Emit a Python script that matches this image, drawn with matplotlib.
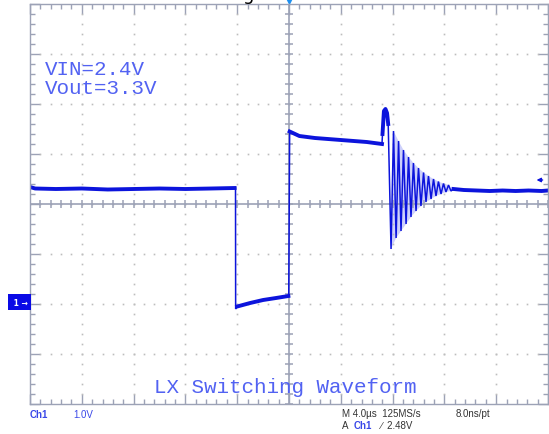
import numpy as np
import matplotlib.pyplot as plt
from matplotlib.ticker import MultipleLocator
from matplotlib.transforms import blended_transform_factory

# scope settings: 4 us/div, 1 V/div, ch1 ground at 0 V
time_per_div = 4.0
volt_per_div = 1.0
trigger_level = 2.48

# LX node, sampled off the screen (time in us, volts)
pre_t = [-20.0, -19.6, -18.0, -16.0, -14.0, -12.0, -10.0, -8.0, -6.0, -4.2]
pre_v = [2.34, 2.31, 2.30, 2.31, 2.29, 2.30, 2.31, 2.30, 2.31, 2.32]

low_t = [-4.13, -4.12, -4.0, -3.0, -2.0, -1.0, -0.05]
low_v = [2.32, -0.10, -0.05, 0.02, 0.08, 0.12, 0.16]

high_t = [-0.02, 0.05, 0.8, 2.0, 4.0, 6.0, 7.18]
high_v = [0.16, 3.45, 3.36, 3.32, 3.28, 3.24, 3.20]

spike_t = [7.22, 7.33, 7.45, 7.57, 7.66]
spike_v = [3.40, 3.86, 3.90, 3.82, 3.60]

ring_t = [7.88, 8.07, 8.27, 8.46, 8.65, 8.84, 9.04, 9.23, 9.42, 9.61,
          9.81, 10.00, 10.19, 10.39, 10.58, 10.77, 10.97, 11.16, 11.35,
          11.54, 11.74, 11.93, 12.12, 12.32, 12.51]
ring_v = [1.10, 3.46, 1.32, 3.26, 1.46, 3.08, 1.60, 2.94, 1.74, 2.82,
          1.86, 2.72, 1.96, 2.63, 2.04, 2.56, 2.10, 2.50, 2.16, 2.45,
          2.20, 2.41, 2.24, 2.38, 2.26]

post_t = [12.7, 13.5, 14.5, 15.5, 16.5, 17.5, 18.5, 19.5, 20.0]
post_v = [2.30, 2.28, 2.27, 2.26, 2.27, 2.26, 2.27, 2.26, 2.27]

trace_col = '#0c14dc'
text_col = '#5262f2'
frame_col = '#9ca2b6'
dot_col = '#bdbdbd'


def drawScreen(ax):
    """Graticule: dotted grid, center rulers and edge ticks"""
    ax.set_xlim(-5 * time_per_div, 5 * time_per_div)
    ax.set_ylim(-2 * volt_per_div, 6 * volt_per_div)

    ax.xaxis.set_major_locator(MultipleLocator(time_per_div))
    ax.xaxis.set_minor_locator(MultipleLocator(time_per_div / 5))
    ax.yaxis.set_major_locator(MultipleLocator(volt_per_div))
    ax.yaxis.set_minor_locator(MultipleLocator(volt_per_div / 5))
    ax.tick_params(which='both', direction='in', top=True, right=True,
                   labelbottom=False, labelleft=False, color=frame_col, width=1)
    ax.tick_params(which='major', length=7)
    ax.tick_params(which='minor', length=3.6)
    for s in ax.spines.values():
        s.set_color(frame_col)
        s.set_linewidth(1.0)

    xmaj = np.arange(-20, 20.1, time_per_div)
    xmin = np.arange(-20, 20.1, time_per_div / 5)
    ymaj = np.arange(-2, 6.01, volt_per_div)
    ymin = np.arange(-2, 6.01, volt_per_div / 5)

    # dotted grid
    for x in xmaj[1:-1]:
        ax.plot(np.full(len(ymin), x), ymin, ls='none', marker='s', ms=1.2,
                color=dot_col, mec='none')
    for y in ymaj[1:-1]:
        ax.plot(xmin, np.full(len(xmin), y), ls='none', marker='s', ms=1.2,
                color=dot_col, mec='none')

    # center rulers
    ax.axhline(2, color=frame_col, lw=1.2)
    ax.axvline(0, color=frame_col, lw=1.2)
    ax.vlines(xmin, 2 - 0.08, 2 + 0.08, color=frame_col, lw=1.1)
    ax.hlines(ymin, -0.3, 0.3, color=frame_col, lw=1.1)


def drawTrace(ax):
    """Switch node waveform"""
    t = pre_t + low_t + high_t + spike_t + ring_t + post_t
    v = pre_v + low_v + high_v + spike_v + ring_v + post_v

    # faint persistence between the ringing swings: peaks out, troughs back
    band_t = ring_t[1::2] + ring_t[0::2][::-1]
    band_v = ring_v[1::2] + ring_v[0::2][::-1]
    ax.fill(band_t, band_v, color='#cdd0fb', lw=0)
    ax.plot(t, v, color=trace_col, lw=1.1, solid_joinstyle='miter')

    # flat parts carry a band of noise
    for seg_t, seg_v in [(pre_t, pre_v), (low_t[2:], low_v[2:]),
                         (high_t[1:], high_v[1:]), (spike_t, spike_v),
                         (post_t, post_v)]:
        ax.plot(seg_t, seg_v, color=trace_col, lw=2.8)


fig = plt.figure(figsize=(5.49, 4.35), dpi=100)
fig.patch.set_facecolor('white')
ax = fig.add_axes([30 / 549, 30 / 435, 518 / 549, 400 / 435])

drawScreen(ax)
drawTrace(ax)

# channel ground marker
blend = blended_transform_factory(ax.transAxes, ax.transData)
ax.text(-0.004, 0.04, ' 1 \u2192', transform=blend, ha='right', va='center',
        fontsize=5.5, color='white', fontweight='bold',
        bbox=dict(boxstyle='square,pad=0.45', fc='#0a0ae6', ec='none'),
        clip_on=False)

# trigger position and level markers
ax.plot([0], [6.06], marker='v', ms=6, color='#1e90f0', mec='none', clip_on=False)
ax.annotate('', xy=(18.9, trigger_level), xytext=(19.8, trigger_level),
            arrowprops=dict(arrowstyle='-|>', color=trace_col, lw=1,
                            mutation_scale=6), annotation_clip=False)

# labels on screen
mono = 'Liberation Mono'
fig.text(45 / 549, 1 - 75 / 435, 'VIN=2.4V', family=mono, fontsize=15,
         color=text_col, va='baseline')
fig.text(45 / 549, 1 - 94 / 435, 'Vout=3.3V', family=mono, fontsize=15,
         color=text_col, va='baseline')
fig.text(154 / 549, 1 - 393 / 435, 'LX Switching Waveform', family=mono,
         fontsize=15, color=text_col, va='baseline')

# caption cut off above the screen
fig.text(243 / 549, 1.0, 'g', fontsize=13, color='black', va='baseline')

# readouts under the screen
small = dict(family='Liberation Sans', fontsize=7, va='center')
fig.text(30 / 549, 1 - 415 / 435, 'Ch1', color='#3a48e8', fontweight='bold', **small)
fig.text(73 / 549, 1 - 415 / 435, '1.0V', color='#3a48e8', **small)
fig.text(342 / 549, 1 - 414 / 435, 'M 4.0\u00b5s  125MS/s', color='#333333', **small)
fig.text(456 / 549, 1 - 414 / 435, '8.0ns/pt', color='#333333', **small)
fig.text(342 / 549, 1 - 426 / 435, 'A', color='#333333', **small)
fig.text(354 / 549, 1 - 426 / 435, 'Ch1', color='#3a48e8', fontweight='bold', **small)
fig.text(381 / 549, 1 - 426 / 435, '\u2215  2.48V', color='#333333', **small)

fig.savefig('out.png', dpi=100, facecolor='white')
